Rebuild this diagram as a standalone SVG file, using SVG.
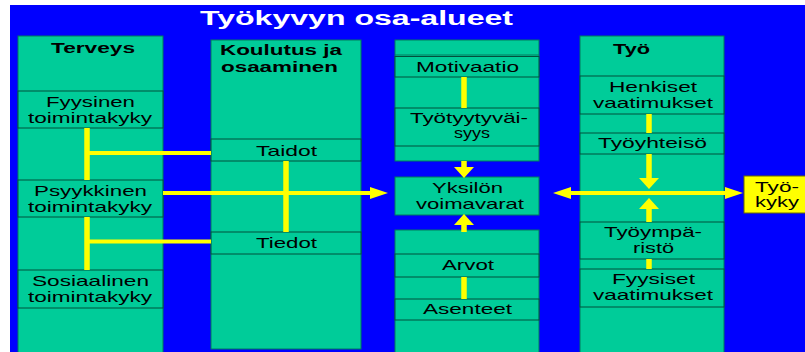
<svg xmlns="http://www.w3.org/2000/svg" width="805" height="352" viewBox="0 0 805 352">
<style>
.col{fill:#00CC99;stroke:#007A5E;stroke-width:1}
.sub{fill:#00CC99;stroke:#00503C;stroke-width:1}
.res{fill:#FFFF00;stroke:#6B6B00;stroke-width:1}
text{font-family:"Liberation Sans",Arial,sans-serif;font-size:14.5px;fill:#000;text-anchor:middle}
.h{font-weight:bold}
.l{text-anchor:start}
.title{font-size:20px;font-weight:bold;fill:#fff}
.v{stroke:#FFFF00;stroke-width:5.5;fill:none}
.hz{stroke:#FFFF00;stroke-width:4;fill:none}
</style>
<defs>
<marker id="ahV" markerUnits="userSpaceOnUse" markerWidth="12" markerHeight="22" refX="0" refY="11" orient="auto"><path d="M0,1 L11,11 L0,21 Z" fill="#FFFF00"/></marker>
<marker id="ahH" markerUnits="userSpaceOnUse" markerWidth="19" markerHeight="14" refX="0" refY="7" orient="auto-start-reverse"><path d="M0,1 L18,7 L0,13 Z" fill="#FFFF00"/></marker>
</defs>
<rect x="0" y="0" width="805" height="352" fill="#fff"/>
<rect x="10" y="5" width="800" height="350" fill="#0000FF"/>
<text class="title" x="356.5" y="25" textLength="313" lengthAdjust="spacingAndGlyphs">Työkyvyn osa-alueet</text>

<g id="terveys">
<rect class="col" x="18" y="36" width="145" height="320"/>
<text class="h" x="93" y="53" textLength="84" lengthAdjust="spacingAndGlyphs">Terveys</text>
</g>
<g id="fyysinen">
<rect class="sub" x="18" y="91" width="145" height="37"/>
<text x="90.5" y="107" textLength="89" lengthAdjust="spacingAndGlyphs">Fyysinen</text>
<text x="90" y="122.5" textLength="124" lengthAdjust="spacingAndGlyphs">toimintakyky</text>
</g>
<g id="psyykkinen">
<rect class="sub" x="18" y="180" width="145" height="37"/>
<text x="90.5" y="196" textLength="113" lengthAdjust="spacingAndGlyphs">Psyykkinen</text>
<text x="90" y="211.5" textLength="124" lengthAdjust="spacingAndGlyphs">toimintakyky</text>
</g>
<g id="sosiaalinen">
<rect class="sub" x="18" y="270" width="145" height="38"/>
<text x="90.5" y="286" textLength="117" lengthAdjust="spacingAndGlyphs">Sosiaalinen</text>
<text x="90" y="301.5" textLength="124" lengthAdjust="spacingAndGlyphs">toimintakyky</text>
</g>

<g id="koulutus">
<rect class="col" x="211" y="40" width="150" height="309"/>
<text class="h l" x="220" y="55" textLength="122" lengthAdjust="spacingAndGlyphs">Koulutus ja</text>
<text class="h l" x="221" y="72" textLength="117" lengthAdjust="spacingAndGlyphs">osaaminen</text>
</g>
<g id="taidot">
<rect class="sub" x="211" y="139" width="150" height="22"/>
<text x="286.5" y="156" textLength="61" lengthAdjust="spacingAndGlyphs">Taidot</text>
</g>
<g id="tiedot">
<rect class="sub" x="211" y="232" width="150" height="22"/>
<text x="286.5" y="248" textLength="61" lengthAdjust="spacingAndGlyphs">Tiedot</text>
</g>

<g id="yksilo-ylä">
<rect class="col" x="395" y="40" width="144" height="121"/>
<line x1="395" y1="55" x2="539" y2="55" stroke="#007A5E" stroke-width="1"/>
</g>
<g id="motivaatio">
<rect class="sub" x="395" y="56.5" width="144" height="20.5"/>
<text x="467.5" y="72" textLength="103" lengthAdjust="spacingAndGlyphs">Motivaatio</text>
</g>
<g id="tyotyytyvaisyys">
<rect class="sub" x="395" y="108" width="144" height="38"/>
<text x="469" y="123" textLength="118" lengthAdjust="spacingAndGlyphs">Työtyytyväi-</text>
<text x="472" y="137.5" textLength="36" lengthAdjust="spacingAndGlyphs">syys</text>
</g>
<g id="yksilon-voimavarat">
<rect class="col" x="395" y="177" width="144" height="38"/>
<text x="467.5" y="193" textLength="71" lengthAdjust="spacingAndGlyphs">Yksilön</text>
<text x="470" y="209" textLength="108" lengthAdjust="spacingAndGlyphs">voimavarat</text>
</g>
<g id="yksilo-ala">
<rect class="col" x="395" y="230" width="144" height="126"/>
</g>
<g id="arvot">
<rect class="sub" x="395" y="254" width="144" height="23"/>
<text x="468" y="270" textLength="52" lengthAdjust="spacingAndGlyphs">Arvot</text>
</g>
<g id="asenteet">
<rect class="sub" x="395" y="299" width="144" height="21"/>
<text x="467.5" y="314" textLength="89" lengthAdjust="spacingAndGlyphs">Asenteet</text>
</g>

<g id="tyo">
<rect class="col" x="580" y="36" width="144" height="320"/>
<text class="h l" x="613" y="54" textLength="37" lengthAdjust="spacingAndGlyphs">Työ</text>
</g>
<g id="henkiset">
<rect class="sub" x="580" y="76" width="144" height="38"/>
<text x="653" y="92" textLength="88" lengthAdjust="spacingAndGlyphs">Henkiset</text>
<text x="653" y="108" textLength="120" lengthAdjust="spacingAndGlyphs">vaatimukset</text>
</g>
<g id="tyoyhteiso">
<rect class="sub" x="580" y="133" width="144" height="21"/>
<text x="652.5" y="148" textLength="109" lengthAdjust="spacingAndGlyphs">Työyhteisö</text>
</g>
<g id="tyoymparisto">
<rect class="sub" x="580" y="222" width="144" height="37"/>
<text x="653" y="237" textLength="98" lengthAdjust="spacingAndGlyphs">Työympä-</text>
<text x="653.5" y="253" textLength="41" lengthAdjust="spacingAndGlyphs">ristö</text>
</g>
<g id="fyysiset">
<rect class="sub" x="580" y="269" width="144" height="38"/>
<text x="653.5" y="284" textLength="83" lengthAdjust="spacingAndGlyphs">Fyysiset</text>
<text x="653" y="300" textLength="120" lengthAdjust="spacingAndGlyphs">vaatimukset</text>
</g>

<g id="tyokyky">
<rect class="res" x="744" y="176" width="66" height="37"/>
<text class="l" x="755" y="192" textLength="44" lengthAdjust="spacingAndGlyphs">Työ-</text>
<text class="l" x="755" y="207" textLength="44" lengthAdjust="spacingAndGlyphs">kyky</text>
</g>

<g id="connectors">
<line class="v" x1="87" y1="128" x2="87" y2="180"/>
<line class="v" x1="87" y1="217" x2="87" y2="270"/>
<line class="hz" x1="87" y1="153" x2="211" y2="153"/>
<line class="hz" x1="87" y1="241.5" x2="211" y2="241.5"/>
<line class="hz" x1="163" y1="193" x2="370" y2="193" marker-end="url(#ahH)"/>
<line class="v" x1="286" y1="161" x2="286" y2="232"/>
<line class="v" x1="464" y1="77" x2="464" y2="108"/>
<line class="v" x1="464" y1="161" x2="464" y2="167" marker-end="url(#ahV)"/>
<line class="v" x1="464" y1="232" x2="464" y2="225" marker-end="url(#ahV)"/>
<line class="v" x1="464" y1="277" x2="464" y2="299"/>
<line class="v" x1="649" y1="114" x2="649" y2="133"/>
<line class="v" x1="649" y1="154" x2="649" y2="178" marker-end="url(#ahV)"/>
<line class="v" x1="649" y1="222" x2="649" y2="209" marker-end="url(#ahV)"/>
<line class="v" x1="649" y1="259" x2="649" y2="269"/>
<line class="hz" x1="571" y1="193" x2="725" y2="193" marker-start="url(#ahH)" marker-end="url(#ahH)"/>
</g>
</svg>
